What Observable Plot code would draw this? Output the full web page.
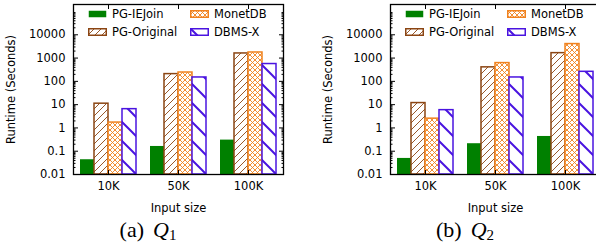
<!DOCTYPE html>
<html><head><meta charset="utf-8">
<script src="https://cdn.jsdelivr.net/npm/d3@7"></script>
<script src="https://cdn.jsdelivr.net/npm/@observablehq/plot@0.6"></script>
<style>
body{margin:0;width:596px;height:249px;overflow:hidden;position:relative;background:#fff;font-family:"DejaVu Sans";}
.panel{position:absolute;top:0;width:300px;height:249px;}
.legend{position:absolute;left:88px;top:5px;display:grid;grid-template-columns:102px auto;grid-template-rows:17.7px 17.7px;grid-auto-flow:column;font-size:11.5px;align-items:center;color:#000;}
.legend span{display:flex;align-items:center;gap:5px;white-space:nowrap;}
.caption{position:absolute;left:0;width:296px;top:217px;text-align:center;font-family:"Liberation Serif";font-size:22px;color:#000;}
.caption i{margin-left:9px;}
.caption sub{font-style:normal;font-size:15px;vertical-align:-3px;}
</style></head><body>
<svg width="0" height="0" style="position:absolute">
<defs>
<pattern id="hBrown" patternUnits="userSpaceOnUse" width="7" height="7"><rect width="7" height="7" fill="#fff"/><path d="M-1,1 L1,-1 M0,7 L7,0 M6,8 L8,6" stroke="#8B4513" stroke-width="0.9"/></pattern>
<pattern id="hOrange" patternUnits="userSpaceOnUse" width="5" height="5"><rect width="5" height="5" fill="#fff"/><path d="M0,0 L5,5 M5,0 L0,5" stroke="#F0821E" stroke-width="0.9"/></pattern>
<pattern id="hBlue" patternUnits="userSpaceOnUse" width="19" height="19"><rect width="19" height="19" fill="#fff"/><path d="M0,0 L19,19 M-1,18 L1,20 M18,-1 L20,1" stroke="#4A14E0" stroke-width="2"/></pattern>
</defs></svg>
<script>
const sizes = ["10K", "50K", "100K"];
const systems = ["PG-IEJoin", "PG-Original", "MonetDB", "DBMS-X"];
const q1IEJoin = [0.043, 0.16, 0.30];
const q1Original = [11, 205, 1580];
const q1Monet = [1.7, 240, 1740];
const q1DBMSX = [6.4, 147, 555];
const q2IEJoin = [0.049, 0.21, 0.43];
const q2Original = [11.7, 400, 1630];
const q2Monet = [2.5, 610, 4000];
const q2DBMSX = [5.8, 147, 257];
const yTicks = [0.01, 0.1, 1, 10, 100, 1000, 10000];
const yTickLabels = ["0.01", "0.1", "1", "10", "100", "1000", "10000"];
const yMin = 0.01, yMax = 200000;
const yMinor = yTicks.concat([100000]).flatMap(t => [2,3,4,5,6,7,8,9].map(m => +(t * m).toPrecision(3))).filter(v => v < yMax);
const yLabel = new Map(yTicks.map((t, i) => [t, yTickLabels[i]]));
const fills = {"PG-IEJoin": "#008000", "PG-Original": "url(#hBrown)", "MonetDB": "url(#hOrange)", "DBMS-X": "url(#hBlue)"};
const strokes = {"PG-IEJoin": "none", "PG-Original": "#8B4513", "MonetDB": "#F0821E", "DBMS-X": "#4A14E0"};

function chart(series) {
  const data = systems.flatMap((s, k) => sizes.map((z, i) => ({system: s, size: z, value: series[k][i]})));
  return Plot.plot({
    width: 300, height: 218,
    marginLeft: 73, marginRight: 17, marginTop: 4, marginBottom: 44,
    style: {fontFamily: "DejaVu Sans", fontSize: "11.5px", color: "black", background: "transparent", overflow: "visible"},
    fx: {domain: sizes, padding: 0},
    x: {domain: systems, paddingInner: 0, paddingOuter: 0.456, axis: null},
    y: {type: "log", domain: [yMin, yMax]},
    marks: [
      Plot.barY(data, {fx: "size", x: "system", y1: yMin, y2: "value", fill: d => fills[d.system], stroke: d => strokes[d.system], strokeWidth: 1.5}),
      Plot.axisY({anchor: "left", ticks: yTicks, tickFormat: d => yLabel.get(d), tickSize: -5, tickPadding: 13, label: "Runtime (Seconds)", labelAnchor: "center", labelArrow: "none", labelOffset: 67}),
      Plot.axisY({anchor: "left", ticks: yMinor, tickFormat: () => "", tickSize: -2.5, label: null}),
      Plot.axisY({anchor: "right", ticks: yTicks, tickFormat: () => "", tickSize: -5, label: null}),
      Plot.axisY({anchor: "right", ticks: yMinor, tickFormat: () => "", tickSize: -2.5, label: null}),
      Plot.axisFx({anchor: "bottom", tickSize: -4, tickPadding: 11, label: "Input size", labelAnchor: "center", labelArrow: "none", labelOffset: 37}),
      Plot.axisFx({anchor: "top", tickSize: -4, tickFormat: () => "", label: null}),
      Plot.frame({facet: "super", strokeWidth: 1.3})
    ]
  });
}

function legend() {
  const div = document.createElement("div");
  div.className = "legend";
  for (const s of systems) {
    const span = document.createElement("span");
    span.innerHTML = `<svg width="19" height="8"><rect x="0.75" y="0.75" width="17.5" height="6.5" fill="${fills[s]}" stroke="${strokes[s]}" stroke-width="1.5"/></svg>${s}`;
    div.appendChild(span);
  }
  return div;
}

function panel(left, series, tag, sub) {
  const p = document.createElement("div");
  p.className = "panel";
  p.style.left = left + "px";
  p.appendChild(chart(series));
  p.appendChild(legend());
  const c = document.createElement("div");
  c.className = "caption";
  c.innerHTML = `(${tag})<i>Q<sub>${sub}</sub></i>`;
  p.appendChild(c);
  document.body.appendChild(p);
}

panel(0, [q1IEJoin, q1Original, q1Monet, q1DBMSX], "a", "1");
panel(317, [q2IEJoin, q2Original, q2Monet, q2DBMSX], "b", "2");
</script></body></html>
